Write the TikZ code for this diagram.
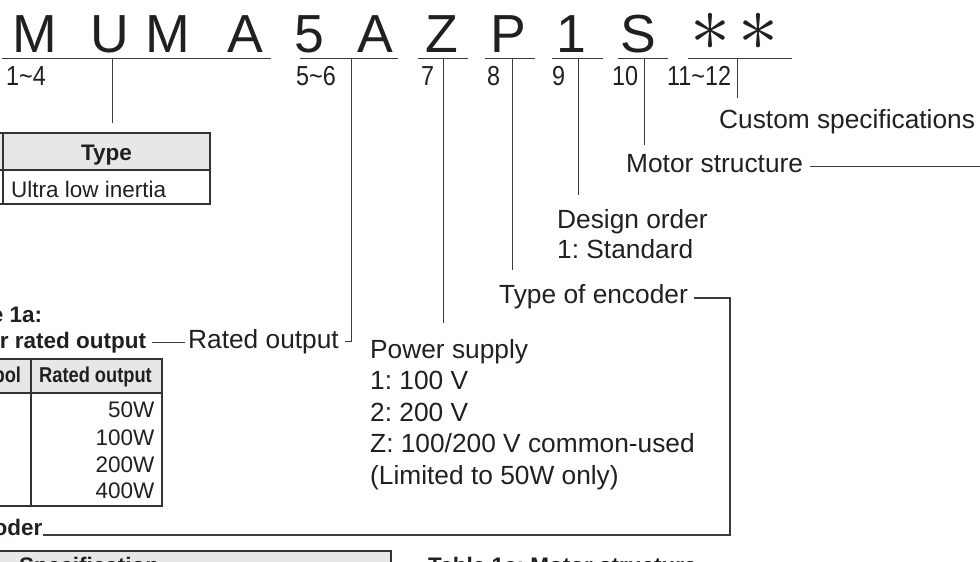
\documentclass[tikz,border=0pt]{standalone}
\usepackage{fontspec}
\setmainfont{Liberation Sans}
\newfontfamily\condfont[FakeStretch=0.85]{Liberation Sans}
\usepackage{xcolor}
\usepackage{tikz}
\frenchspacing

\definecolor{ink}{HTML}{231F20}
\definecolor{rule}{HTML}{3C3C3C}
\definecolor{tabrule}{HTML}{333333}
\definecolor{headfill}{HTML}{E6E7E8}

\newcommand{\codesize}{\fontsize{53.6}{60}\selectfont}
\newcommand{\labelsize}{\fontsize{26.3}{31}\selectfont}
\newcommand{\possize}{\condfont\fontsize{27.5}{30}\selectfont}
\newcommand{\titlesize}{\bfseries\fontsize{22.5}{27}\selectfont}
\newcommand{\cellsize}{\fontsize{22.5}{27}\selectfont}
\newcommand{\headsize}{\condfont\bfseries\fontsize{21.5}{26}\selectfont}

\begin{document}
\begin{tikzpicture}[x=1pt,y=-1pt,
			every node/.style={inner sep=0pt,text=ink},
			codechar/.style={anchor=base,font=\codesize},
			poslabel/.style={anchor=base west,font=\possize},
			lbl/.style={anchor=base west,font=\labelsize},
			tabtitle/.style={anchor=base west,font=\titlesize},
			cell/.style={font=\cellsize},
			headcell/.style={anchor=base,font=\headsize},
			underbar/.style={draw=rule,line width=1pt},
			leader/.style={draw=rule,line width=0.9pt},
			bracket/.style={draw=rule,line width=1.3pt},
			tabline/.style={draw=tabrule,line width=1.3pt}]
	\useasboundingbox (0,0) rectangle (980,562);
	\clip (0,0) rectangle (980,562);

	% model code
	\foreach \c/\x [count=\i] in {M/35,U/110,M/167.5,A/245,5/309.5,A/375,Z/442,P/508,1/571,S/638}
		\node[codechar] (c\i) at (\x,52) {\c};
	\node[scale=8] (c11) at (710.5,31.5) {$\ast$};
	\node[scale=8] (c12) at (758.5,31.5) {$\ast$};

	\foreach \a/\b in {2/271,300/398,418/468,485/535,552/603,618/668,688/792}
		\draw[underbar] (\a,58) -- (\b,58);

	\foreach \t/\x [count=\i] in {1\textasciitilde4/6,5\textasciitilde6/296,7/421,8/487,9/552,10/612,11\textasciitilde12/667}
		\node[poslabel] (pos\i) at (\x,85) {\t};

	% labels
	\node[lbl] (custom) at (719,128) {Custom specifications};
	\node[lbl] (motor) at (626,172) {Motor structure};
	\node[lbl] (design) at (557,228) {Design order};
	\node[lbl] (design2) at ([yshift=-30pt]design.base west) {1: Standard};
	\node[lbl] (encoder) at (499,303) {Type of encoder};
	\node[lbl] (rated) at (188,348) {Rated output};
	\node[lbl] (power) at (370,358) {Power supply};
	\node[lbl] (power2) at ([yshift=-31.5pt]power.base west) {1: 100 V};
	\node[lbl] (power3) at ([yshift=-31.5pt]power2.base west) {2: 200 V};
	\node[lbl] (power4) at ([yshift=-31.5pt]power3.base west) {Z: 100/200 V common-used};
	\node[lbl] (power5) at ([yshift=-31.5pt]power4.base west) {(Limited to 50W only)};

	\node[tabtitle] (t1a) at (-54,322) {Table 1a:};
	\node[tabtitle] (t1a2) at (-54,348) {Motor rated output};
	\node[tabtitle,anchor=base east] (t1b) at (42.5,535) {Table 1b: Type of encoder};
	\node[tabtitle] (t1c) at (428,573) {Table 1c: Motor structure};

	% leaders
	\foreach \x/\y [count=\i] in {112/123,443/323,512/270,578/195,644/145,737/98}
		\draw[leader] (\x,58) coordinate (tap\i) -- (\x,\y) coordinate (tip\i);
	\draw[leader] (351,58) coordinate (taprated) |- ([xshift=6pt]rated.east);
	\draw[leader] ([xshift=6pt]t1a2.east) -- ([xshift=-3pt]t1a2.east -| rated.west);
	\draw[leader] ([xshift=7pt,yshift=5.5pt]motor.base east) -- ++(200,0);
	\coordinate (encturn) at (730,535);
	\draw[bracket] ([xshift=6pt,yshift=5pt]encoder.base east) -| (encturn) -- (t1b.base east);

	% table: type
	\filldraw[tabline,fill=headfill] (-100,133) rectangle (210,170);
	\draw[tabline] (-100,170) rectangle (210,204);
	\draw[tabline] (3,133) -- (3,204);
	\node[anchor=base,font=\titlesize] (typehead) at (106.5,160) {Type};
	\node[cell,anchor=base west] (typeval) at (11,197) {Ultra low inertia};

	% table 1a
	\filldraw[tabline,fill=headfill] (-55,359) rectangle (162,393);
	\draw[tabline] (-55,393) rectangle (162,506);
	\draw[tabline] (31,359) -- (31,506);
	\node[headcell] (symhead) at (-12,382) {Symbol};
	\node[headcell] (outhead) at (95.5,382) {Rated output};
	\foreach \v/\y [count=\i] in {50W/417,100W/445,200W/472,400W/498}
		\node[cell,anchor=base east] (out\i) at (154.5,\y) {\v};

	% table 1b
	\filldraw[tabline,fill=headfill] (-10,551) rectangle (391,600);
	\node[tabtitle] (spechead) at (19,573) {Specification};
\end{tikzpicture}
\end{document}
